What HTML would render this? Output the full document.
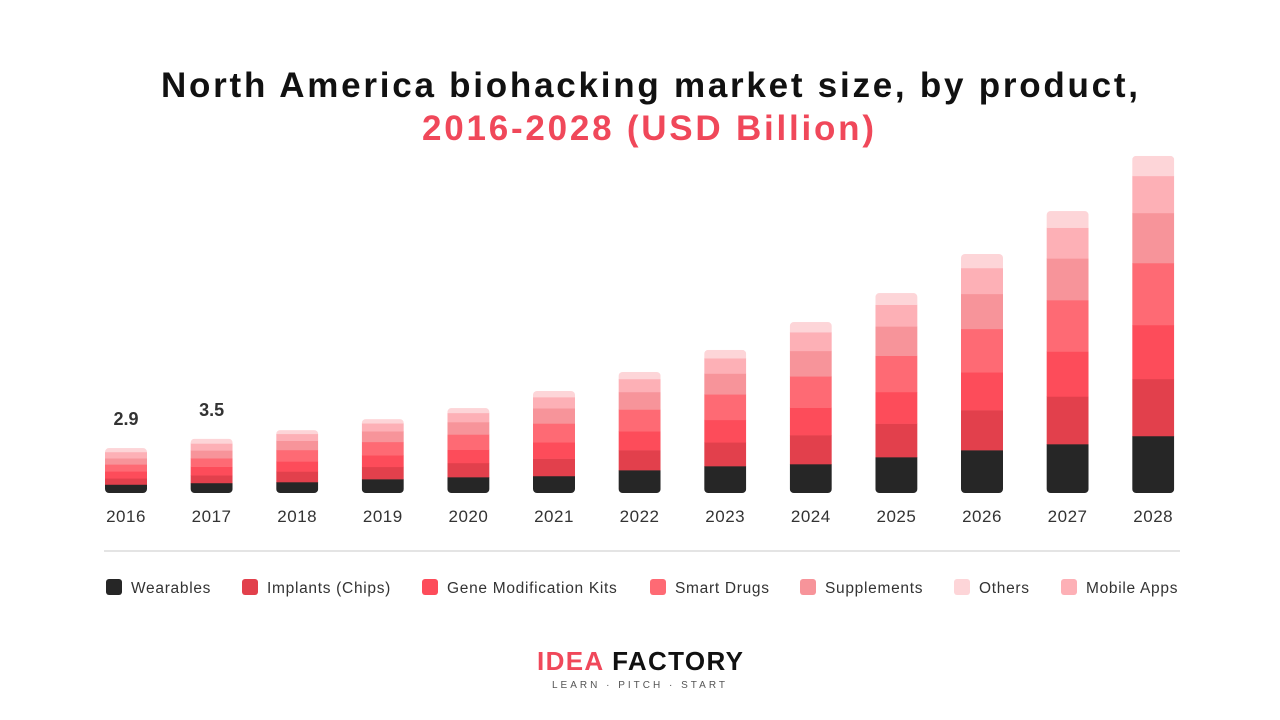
<!DOCTYPE html>
<html><head><meta charset="utf-8"><style>
body{margin:0;width:1280px;height:720px;background:#fff;font-family:"Liberation Sans","DejaVu Sans",sans-serif;overflow:hidden}
svg{display:block}
</style></head><body>
<svg id="chart" width="1280" height="720">
<text x="161" y="97" textLength="977" lengthAdjust="spacing" font-size="35" font-weight="bold" fill="#111">North America biohacking market size, by product,</text>
<text x="422" y="140" textLength="452" lengthAdjust="spacing" font-size="35" font-weight="bold" fill="#f0485a">2016-2028 (USD Billion)</text>
<line x1="104" y1="551" x2="1180" y2="551" stroke="#dcdcdc" stroke-width="1.5"/>
<g id="bars"></g><g id="legend"></g>
<text x="537" y="670" textLength="206" lengthAdjust="spacing" font-size="26" font-weight="bold"><tspan fill="#f0485a">IDEA</tspan><tspan fill="#111"> FACTORY</tspan></text>
<text x="640" y="688" text-anchor="middle" font-size="10" letter-spacing="3" fill="#555">LEARN · PITCH · START</text>
</svg>
<script>
const years=["2016","2017","2018","2019","2020","2021","2022","2023","2024","2025","2026","2027","2028"];
const seriesNames=["Wearables","Implants (Chips)","Gene Modification Kits","Smart Drugs","Supplements","Mobile Apps","Others"];
const wearables=[0.55,0.65,0.71,0.9,1.03,1.1,1.48,1.74,1.87,2.32,2.77,3.16,3.68];
const implants=[0.4,0.5,0.68,0.79,0.91,1.12,1.29,1.53,1.87,2.16,2.58,3.07,3.68];
const geneKits=[0.45,0.55,0.65,0.75,0.86,1.06,1.22,1.45,1.77,2.04,2.44,2.9,3.48];
const smartDrugs=[0.45,0.55,0.74,0.86,0.98,1.21,1.40,1.65,2.02,2.34,2.80,3.32,4.0];
const supplements=[0.4,0.5,0.60,0.69,0.80,0.98,1.13,1.34,1.64,1.89,2.26,2.69,3.23];
const mobileApps=[0.4,0.45,0.44,0.51,0.59,0.72,0.84,0.99,1.21,1.40,1.67,1.98,2.39];
const others=[0.25,0.3,0.24,0.27,0.31,0.39,0.45,0.53,0.65,0.75,0.90,1.07,1.29];
const valueLabels=["2.9","3.5"];
const NS="http://www.w3.org/2000/svg";
const series=[wearables,implants,geneKits,smartDrugs,supplements,mobileApps,others];
const colors=["#262626","#e2404c","#fd4c5a","#fe6a74","#f7949a","#fdb0b6","#fdd5d8"];
const baseY=493,pxPer=15.5,x0=126,step=85.6,bw=42;
const xS=i=>x0+i*step, yS=v=>baseY-v*pxPer;
const bars=document.getElementById('bars');
const defs=document.createElementNS(NS,'defs');bars.appendChild(defs);
years.forEach((yr,i)=>{
  let tot=0;series.forEach(s=>tot+=s[i]);
  const cp=document.createElementNS(NS,'clipPath');cp.setAttribute('id','c'+i);
  const cr=document.createElementNS(NS,'rect');
  cr.setAttribute('x',xS(i)-bw/2);cr.setAttribute('y',yS(tot));cr.setAttribute('width',bw);cr.setAttribute('height',baseY-yS(tot));cr.setAttribute('rx',4);
  cp.appendChild(cr);defs.appendChild(cp);
  const g=document.createElementNS(NS,'g');g.setAttribute('clip-path','url(#c'+i+')');
  
  
  let acc=0;
  series.forEach((s,k)=>{
    const r=document.createElementNS(NS,'rect');
    r.setAttribute('x',xS(i)-bw/2);r.setAttribute('y',yS(acc+s[i]));r.setAttribute('width',bw);r.setAttribute('height',yS(acc)-yS(acc+s[i])+0.3);r.setAttribute('fill',colors[k]);
    
    
    g.appendChild(r);acc+=s[i];
  });
  bars.appendChild(g);
  const t=document.createElementNS(NS,'text');
  t.setAttribute('x',xS(i));t.setAttribute('y',522);t.setAttribute('text-anchor','middle');t.setAttribute('font-size','17');t.setAttribute('letter-spacing','0.5');t.setAttribute('fill','#333');t.textContent=yr;
  
  
  bars.appendChild(t);
  if(valueLabels[i]){
    const v=document.createElementNS(NS,'text');
    v.setAttribute('x',xS(i));v.setAttribute('y',yS(tot)-23);v.setAttribute('text-anchor','middle');v.setAttribute('font-size','18');v.setAttribute('font-weight','bold');v.setAttribute('fill','#333');v.textContent=valueLabels[i];
    
    
    bars.appendChild(v);
  }
});
const legendOrder=[0,1,2,3,4,6,5];
const legendX=[106,242,422,650,800,954,1061];
const lg=document.getElementById('legend');
legendOrder.forEach((k,j)=>{
  const g=document.createElementNS(NS,'g');
  
  
  const r=document.createElementNS(NS,'rect');
  r.setAttribute('x',legendX[j]);r.setAttribute('y',579);r.setAttribute('width',16);r.setAttribute('height',16);r.setAttribute('rx',3);r.setAttribute('fill',colors[k]);
  const t=document.createElementNS(NS,'text');
  t.setAttribute('x',legendX[j]+25);t.setAttribute('y',593);t.setAttribute('font-size','15.5');t.setAttribute('letter-spacing','0.7');t.setAttribute('fill','#333');t.textContent=seriesNames[k];
  g.appendChild(r);g.appendChild(t);lg.appendChild(g);
});
</script>
</body></html>
